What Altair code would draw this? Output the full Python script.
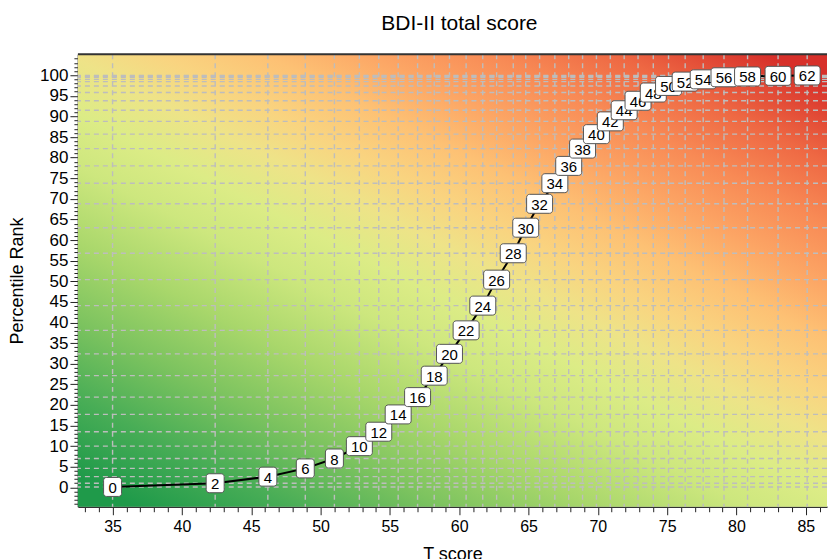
import altair as alt
import pandas as pd

# ---- data ----
raw_scores = list(range(0, 63, 2))
t_scores = [35.0, 42.4, 46.2, 48.9, 51.0, 52.8, 54.2, 55.6, 57.0, 58.2, 59.3, 60.5,
            61.7, 62.7, 63.9, 64.8, 65.8, 66.9, 67.9, 68.9, 69.9, 70.9, 71.9, 72.9,
            74.0, 75.1, 76.3, 77.6, 79.1, 80.8, 83.0, 85.1]
percentiles = [0.1, 1.0, 2.6, 4.6, 7.0, 10.0, 13.5, 17.7, 21.9, 27.1, 32.4, 38.1,
               44.1, 50.4, 56.8, 63.0, 68.8, 73.8, 78.0, 82.2, 85.7, 88.8, 91.5, 93.8,
               95.8, 97.4, 98.45, 99.0, 99.5, 99.7, 99.85, 99.95]
x_tick_values = list(range(33, 87))
y_tick_values = list(range(-4, 105))

df = pd.DataFrame({
    "raw": raw_scores,
    "T": t_scores,
    "P": percentiles,
    "label": [str(r) for r in raw_scores],
})

FONT = "Liberation Sans"
W, H = 750, 453
xscale = alt.Scale(domain=[32.5, 86.53], nice=False, zero=False)
yscale = alt.Scale(domain=[-4.7, 105.08], nice=False, zero=False)

xaxis = alt.Axis(
    values=x_tick_values,
    labelExpr="datum.value % 5 === 0 ? datum.label : ''",
    tickSize={"condition": {"test": "datum.value % 5 === 0", "value": 8}, "value": 5},
    tickColor="#222", tickWidth=1, domain=True, domainColor="#333333", domainWidth=1.5,
    grid=False, labelOverlap=False, labelFlush=False, labelFont=FONT, labelFontSize=16,
    labelColor="black", labelPadding=4,
    title="T score", titleFont=FONT, titleFontSize=18, titleFontWeight="normal",
    titleColor="black", titlePadding=11,
)
yaxis = alt.Axis(
    values=y_tick_values,
    labelExpr="(datum.value % 5 === 0 && datum.value >= 0 && datum.value <= 100) ? datum.label : ''",
    tickSize={"condition": {"test": "datum.value % 5 === 0", "value": 8}, "value": 4},
    tickColor="#222", tickWidth=1, domain=True, domainColor="#333333", domainWidth=1.5,
    grid=False, labelOverlap=False, labelFlush=False, labelFont=FONT, labelFontSize=17,
    labelColor="black", labelPadding=2,
    title="Percentile Rank", titleFont=FONT, titleFontSize=18, titleFontWeight="normal",
    titleColor="black", titlePadding=13,
)

X = alt.X("T:Q", scale=xscale, axis=xaxis)
Y = alt.Y("P:Q", scale=yscale, axis=yaxis)

gradient = alt.LinearGradient(
    gradient="linear", x1=0.08, y1=1, x2=0.92, y2=0,
    stops=[
        alt.GradientStop(color="#1f9a4a", offset=0.0),
        alt.GradientStop(color="#48ad56", offset=0.1),
        alt.GradientStop(color="#7cc35f", offset=0.2),
        alt.GradientStop(color="#a9d76b", offset=0.3),
        alt.GradientStop(color="#cde77e", offset=0.4),
        alt.GradientStop(color="#dcec86", offset=0.47),
        alt.GradientStop(color="#eee388", offset=0.54),
        alt.GradientStop(color="#f9d480", offset=0.6),
        alt.GradientStop(color="#fdc174", offset=0.67),
        alt.GradientStop(color="#fca665", offset=0.74),
        alt.GradientStop(color="#f88a55", offset=0.82),
        alt.GradientStop(color="#ee6843", offset=0.9),
        alt.GradientStop(color="#d7302a", offset=1.0),
    ],
)

base = alt.Chart(df)

background = alt.Chart(pd.DataFrame({"a": [0]})).mark_rect(color=gradient).encode(
    x=alt.value(0), x2=alt.value("width"), y=alt.value(0), y2=alt.value("height")
)
top_border = alt.Chart(pd.DataFrame({"a": [0]})).mark_rule(
    color="#333333", strokeWidth=2
).encode(x=alt.value(0), x2=alt.value("width"), y=alt.value(0))

vgrid = base.mark_rule(color="#bdbdbd", strokeDash=[5, 4], strokeWidth=1.4).encode(x=X)
hgrid = base.mark_rule(color="#bdbdbd", strokeDash=[5, 4], strokeWidth=1.4).encode(y=Y)
line = base.mark_line(color="black", strokeWidth=2).encode(x=X, y=Y, order="raw:Q")

layers = [background, vgrid, hgrid, top_border, line]
for r in raw_scores:
    w = 18 if r < 10 else 26
    sub = base.transform_filter(alt.datum.raw == r)
    box = sub.mark_rect(
        fill="white", stroke="#555555", strokeWidth=1, cornerRadius=3,
        xOffset=-w / 2, x2Offset=w / 2, yOffset=-9.5, y2Offset=9.5,
    ).encode(x=X, x2=alt.X2("T:Q"), y=Y, y2=alt.Y2("P:Q"))
    txt = sub.mark_text(
        font=FONT, fontSize=15, color="black", baseline="middle", align="center", dy=1
    ).encode(x=X, y=Y, text="label:N")
    layers += [box, txt]

chart = alt.layer(*layers).properties(
    width=W, height=H,
    padding={"left": 0, "top": 4, "right": 0, "bottom": 0},
    title=alt.TitleParams(
        "BDI-II total score", font=FONT, fontSize=21, fontWeight="normal",
        color="black", anchor="middle", offset=15.5, dx=7,
    ),
).configure_view(strokeWidth=0)

chart.save("out.html", embed_options={"renderer": "svg", "actions": False})
